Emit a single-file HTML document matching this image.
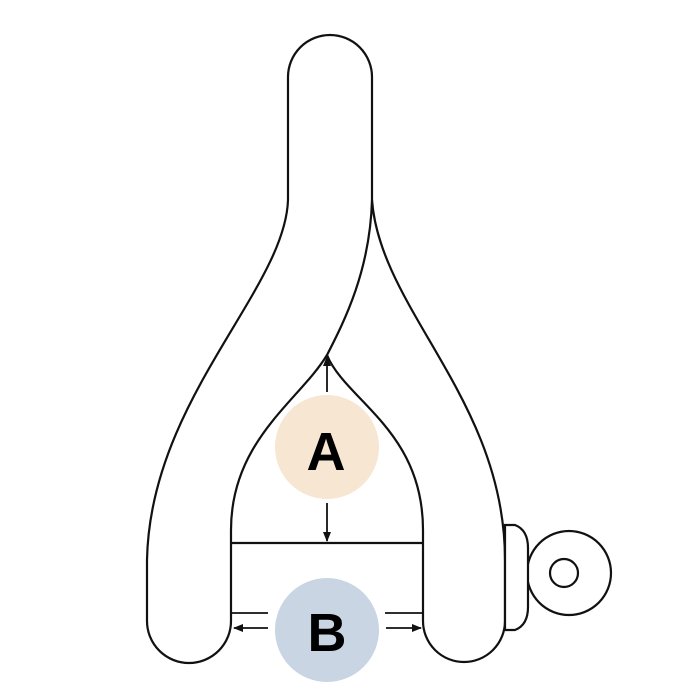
<!DOCTYPE html>
<html><head><style>body{margin:0;background:#fff}svg{display:block}</style></head><body>
<svg width="700" height="700" viewBox="0 0 700 700" xmlns="http://www.w3.org/2000/svg">
<defs><marker id="ar" markerWidth="10" markerHeight="8" refX="9" refY="4" orient="auto" markerUnits="userSpaceOnUse"><path d="M0,0 L10,4 L0,8 z" fill="#111"/></marker></defs>
<g fill="none" stroke="#111" stroke-width="2.2">
<path d="M288,200 L288,77 A42,42 0 0 1 372,77 L372,200"/>
<path d="M288,200 C285,290 150,400 147,560 L147,621 A42,42 0 0 0 231,621 L231,530 C231,440 300,400 327,355 C345,320 370,270 372,200"/>
<path d="M372,200 C380,310 505,400 505,560 L505,621 A41,41 0 0 1 423,621 L423,530 C423,430 345,400 327,355"/>
<line x1="231" y1="543" x2="423" y2="543"/>
<circle cx="569" cy="573" r="42" fill="#fff"/>
<path d="M505,525 L515,525 Q528,530 528,548 L528,607 Q528,625 515,630 L505,630 Z" fill="#fff"/>
<circle cx="564" cy="573" r="14"/>
</g>
<g stroke="#111" stroke-width="1.8" fill="none">
<line x1="231" y1="613" x2="268" y2="613"/>
<line x1="385" y1="613" x2="423" y2="613"/>
<line x1="327" y1="392" x2="327" y2="357" marker-end="url(#ar)"/>
<line x1="327" y1="503" x2="327" y2="541" marker-end="url(#ar)"/>
<line x1="268" y1="628" x2="234" y2="628" marker-end="url(#ar)"/>
<line x1="386" y1="628" x2="421" y2="628" marker-end="url(#ar)"/>
</g>
<circle cx="327" cy="447" r="52" fill="#f7e6d2"/>
<circle cx="327" cy="630" r="52" fill="#c9d5e3"/>
<text x="326" y="470" font-family="Liberation Sans, sans-serif" font-weight="bold" font-size="54" text-anchor="middle" fill="#000">A</text>
<text x="327" y="651" font-family="Liberation Sans, sans-serif" font-weight="bold" font-size="54" text-anchor="middle" fill="#000">B</text>
</svg>
</body></html>
